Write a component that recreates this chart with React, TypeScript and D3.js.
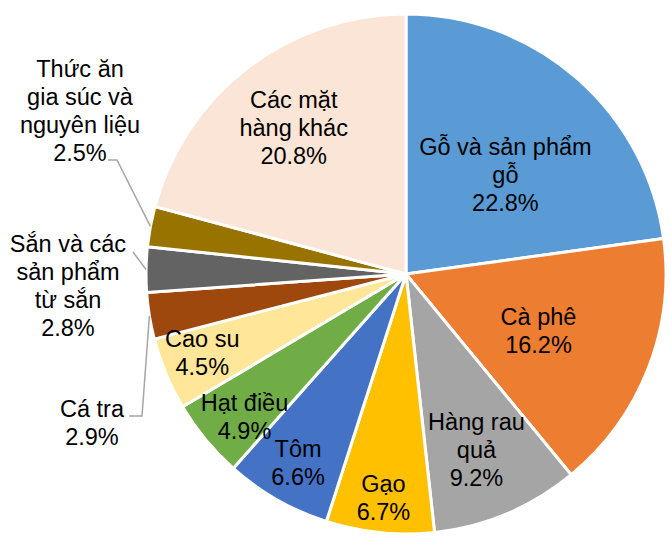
import React, { useEffect, useRef } from "react";
import * as d3 from "d3";

// Categories (with label line breaks) and their shares in percent
const categories: string[] = [
  "Gỗ và sản phẩm\ngỗ",
  "Cà phê",
  "Hàng rau\nquả",
  "Gạo",
  "Tôm",
  "Hạt điều",
  "Cao su",
  "Cá tra",
  "Sắn và các\nsản phẩm\ntừ sắn",
  "Thức ăn\ngia súc và\nnguyên liệu",
  "Các mặt\nhàng khác",
];
const shares: number[] = [22.8, 16.2, 9.2, 6.7, 6.6, 4.9, 4.5, 2.9, 2.8, 2.5, 20.8];
const colors: string[] = [
  "#5B9BD5",
  "#ED7D31",
  "#A5A5A5",
  "#FFC000",
  "#4472C4",
  "#70AD47",
  "#FFE699",
  "#9E480E",
  "#636363",
  "#997300",
  "#FBE5D6",
];

// Label placement: inside labels sit on the slice bisector at a fraction of the radius
const insideLabelRadius: (number | null)[] = [0.54, 0.555, 0.727, 0.865, 0.837, 0.83, 0.84, null, null, null, 0.71];
const insideLabelNudge: number[] = [4, 2, 1, 0, 0, -2, 1.5, 0, 0, 0, 0];
// Outside labels: text block centre (x, y of last line) and elbow of the leader line
const outsideLabels: Record<number, { x: number; lastY: number; elbow: [number, number]; start: [number, number] }> = {
  7: { x: 92, lastY: 437, start: [129, 416], elbow: [142, 416] },
  8: { x: 68, lastY: 328, start: [133, 252], elbow: [133, 252] },
  9: { x: 80, lastY: 153, start: [108, 160], elbow: [117, 160] },
};

const App: React.FC = () => {
  const svgRef = useRef<SVGSVGElement>(null);

  useEffect(() => {
    const svg = d3.select(svgRef.current);
    svg.selectAll("*").remove();

    const cx = 406;
    const cy = 274;
    const radius = 260;
    const fontSize = 23.5;
    const lineHeight = 28;

    const pie = d3
      .pie<number>()
      .sort(null)
      .value((d) => d);
    const arcs = pie(shares);

    const arc = d3.arc<d3.PieArcDatum<number>>().innerRadius(0).outerRadius(radius);

    const g = svg.append("g").attr("transform", `translate(${cx},${cy})`);

    g.selectAll("path.slice")
      .data(arcs)
      .enter()
      .append("path")
      .attr("class", "slice")
      .attr("d", arc as any)
      .attr("fill", (_d, i) => colors[i])
      .attr("stroke", "#fff")
      .attr("stroke-width", 3)
      .attr("stroke-linejoin", "round");

    const font = "'Liberation Sans', Arial, sans-serif";

    arcs.forEach((a, i) => {
      const lines = [...categories[i].split("\n"), `${shares[i].toFixed(1)}%`];
      const mid = (a.startAngle + a.endAngle) / 2;
      const rf = insideLabelRadius[i];

      if (rf !== null) {
        const ang = mid + (insideLabelNudge[i] * Math.PI) / 180;
        const lx = Math.sin(ang) * radius * rf;
        const ly = -Math.cos(ang) * radius * rf;
        const top = ly - ((lines.length - 1) * lineHeight) / 2;
        const t = g
          .append("text")
          .attr("text-anchor", "middle")
          .attr("font-family", font)
          .attr("font-size", fontSize)
          .attr("fill", "#000");
        lines.forEach((ln, k) => {
          t.append("tspan")
            .attr("x", lx)
            .attr("y", top + k * lineHeight)
            .attr("dy", "0.35em")
            .text(ln);
        });
      } else {
        const o = outsideLabels[i];
        // leader line from arc edge at the bisector
        const ex = cx + Math.sin(mid) * radius;
        const ey = cy - Math.cos(mid) * radius;
        svg
          .append("polyline")
          .attr("points", `${o.start[0]},${o.start[1]} ${o.elbow[0]},${o.elbow[1]} ${ex},${ey}`)
          .attr("fill", "none")
          .attr("stroke", "#A6A6A6")
          .attr("stroke-width", 1.5);
        const top = o.lastY - (lines.length - 1) * lineHeight;
        const t = svg
          .append("text")
          .attr("text-anchor", "middle")
          .attr("font-family", font)
          .attr("font-size", fontSize)
          .attr("fill", "#000");
        lines.forEach((ln, k) => {
          t.append("tspan")
            .attr("x", o.x)
            .attr("y", top + k * lineHeight)
            .attr("dy", "0.35em")
            .text(ln);
        });
      }
    });
  }, []);

  return (
    <svg
      ref={svgRef}
      width={671}
      height={542}
      style={{ position: "absolute", left: 0, top: 0, background: "#fff" }}
    ></svg>
  );
};

export default App;
